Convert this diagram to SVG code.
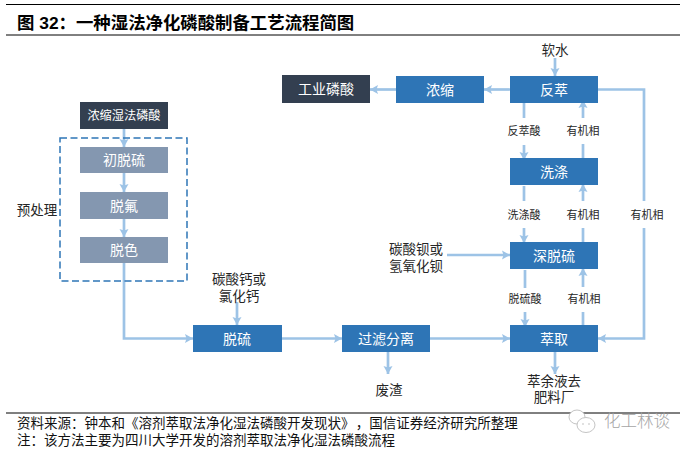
<svg xmlns="http://www.w3.org/2000/svg" width="692" height="453" viewBox="0 0 692 453">
<style>
text{font-family:"Liberation Serif","Noto Sans CJK SC",sans-serif;text-anchor:middle;fill:#262626}
.n{font-size:14px;fill:#fff}
.l{font-size:13.500px}
.s{font-size:11px}
.f{font-size:13.500px;text-anchor:start;fill:#111}
.c{fill:none;stroke:#9dc3e6;stroke-width:2.700}
.a{fill:#9dc3e6}
.d{fill:#333f50}.b{fill:#2e75b6}.g{fill:#8497b0}
.r{stroke:#000;stroke-width:1}
.w{fill:#fff;stroke:#c4c4c4;stroke-width:1}
</style>
<defs><marker id="m" markerUnits="userSpaceOnUse" markerWidth="9" markerHeight="10" refX="8" refY="5" orient="auto"><path class="a" d="M0 0.500L8 5L0 9.500L1.500 5Z"/></marker></defs>
<rect width="692" height="453" fill="#fff"/>
<g id="frame">
<line class="r" x1="6" y1="4.500" x2="680" y2="4.500"/>
<line class="r" x1="6" y1="35" x2="680" y2="35"/>
<line class="r" x1="6" y1="413" x2="680" y2="413"/>
<text x="17" y="29" style="font-family:'Liberation Sans','Noto Sans CJK SC',sans-serif;font-size:17.400px;font-weight:700;text-anchor:start;fill:#000">图 32：一种湿法净化磷酸制备工艺流程简图</text>
<text class="f" x="17" y="428">资料来源：钟本和《溶剂萃取法净化湿法磷酸开发现状》<tspan dx="8">，国信证券经济研究所整理</tspan></text>
<text class="f" x="17" y="445">注：该方法主要为四川大学开发的溶剂萃取法净化湿法磷酸流程</text>
</g>
<g id="connectors">
<path class="c" d="M124 129V147" marker-end="url(#m)"/>
<path class="c" d="M124 173V192" marker-end="url(#m)"/>
<path class="c" d="M124 219V237" marker-end="url(#m)"/>
<path class="c" d="M124 262V338.500H193" marker-end="url(#m)"/>
<path class="c" d="M237 302V325" marker-end="url(#m)"/>
<path class="c" d="M281 338.500H342" marker-end="url(#m)"/>
<path class="c" d="M429 338.500H510" marker-end="url(#m)"/>
<path class="c" d="M388 351V374" marker-end="url(#m)"/>
<path class="c" d="M555 351V374" marker-end="url(#m)"/>
<path class="c" d="M555 58V76" marker-end="url(#m)"/>
<path class="c" d="M510 89.500H484" marker-end="url(#m)"/>
<path class="c" d="M396 89.500H370" marker-end="url(#m)"/>
<path class="c" d="M598 89.500H644V201"/>
<path class="c" d="M644 228V338.500H598" marker-end="url(#m)"/>
<path class="c" d="M524 103V118"/><path class="c" d="M524 145V160" marker-end="url(#m)"/>
<path class="c" d="M524 186V201"/><path class="c" d="M524 228V243" marker-end="url(#m)"/>
<path class="c" d="M525 270V288"/><path class="c" d="M525 312V327" marker-end="url(#m)"/>
<path class="c" d="M583 158V144"/><path class="c" d="M583 118V100" marker-end="url(#m)"/>
<path class="c" d="M583 242V228"/><path class="c" d="M583 201V184" marker-end="url(#m)"/>
<path class="c" d="M583 325V312"/><path class="c" d="M583 287V268" marker-end="url(#m)"/>
<path class="c" d="M447 255H510" marker-end="url(#m)"/>
<rect x="60" y="138" width="127" height="143" fill="none" stroke="#2e75b6" stroke-width="1.500" stroke-dasharray="7 3.500"/>
</g>
<g id="n1"><rect class="d" x="80" y="102" width="88" height="27"/><text class="n" style="font-size:12.200px" x="124" y="120">浓缩湿法磷酸</text></g>
<g id="n2"><rect class="g" x="80" y="147" width="88" height="26"/><text class="n" x="124" y="165">初脱硫</text></g>
<g id="n3"><rect class="g" x="80" y="192" width="88" height="27"/><text class="n" x="124" y="211">脱氟</text></g>
<g id="n4"><rect class="g" x="80" y="237" width="88" height="26"/><text class="n" x="124" y="255">脱色</text></g>
<g id="n5"><rect class="b" x="193" y="325" width="89" height="27"/><text class="n" x="237" y="344">脱硫</text></g>
<g id="n6"><rect class="b" x="342" y="325" width="88" height="27"/><text class="n" x="386" y="344">过滤分离</text></g>
<g id="n7"><rect class="b" x="510" y="325" width="88" height="27"/><text class="n" x="554" y="344">萃取</text></g>
<g id="n8"><rect class="b" x="510" y="242" width="88" height="27"/><text class="n" x="554" y="261">深脱硫</text></g>
<g id="n9"><rect class="b" x="510" y="158" width="88" height="27"/><text class="n" x="554" y="177">洗涤</text></g>
<g id="n10"><rect class="b" x="510" y="76" width="88" height="27"/><text class="n" x="554" y="95">反萃</text></g>
<g id="n11"><rect class="b" x="396" y="76" width="88" height="27"/><text class="n" x="440" y="95">浓缩</text></g>
<g id="n12"><rect class="d" x="282" y="75" width="88" height="28"/><text class="n" x="326" y="94">工业磷酸</text></g>
<g id="labels">
<text class="l" x="37" y="215">预处理</text>
<text class="l" x="239" y="284">碳酸钙或</text><text class="l" x="239" y="301">氯化钙</text>
<text class="l" x="555" y="55">软水</text>
<text class="l" x="416" y="254">碳酸钡或</text><text class="l" x="416" y="271">氢氧化钡</text>
<text class="l" x="389" y="395">废渣</text>
<text class="l" x="554" y="386">萃余液去</text><text class="l" x="554" y="402">肥料厂</text>
<text class="s" x="524" y="135">反萃酸</text><text class="s" x="583" y="135">有机相</text>
<text class="s" x="524" y="219">洗涤酸</text><text class="s" x="583" y="219">有机相</text><text class="s" x="647" y="219">有机相</text>
<text class="s" x="525" y="303">脱硫酸</text><text class="s" x="584" y="303">有机相</text>
</g>
<g id="watermark">
<ellipse class="w" cx="577" cy="417" rx="8" ry="7"/>
<ellipse class="w" cx="586" cy="425" rx="9" ry="7.500"/>
<circle cx="583" cy="424" r="0.800" fill="#bbb"/><circle cx="589" cy="424" r="0.800" fill="#bbb"/>
<text x="637" y="427" style="font-family:'Noto Sans CJK SC',sans-serif;font-size:16.500px;font-weight:300;fill:#a6a6a6">化工林谈</text>
</g>
</svg>
